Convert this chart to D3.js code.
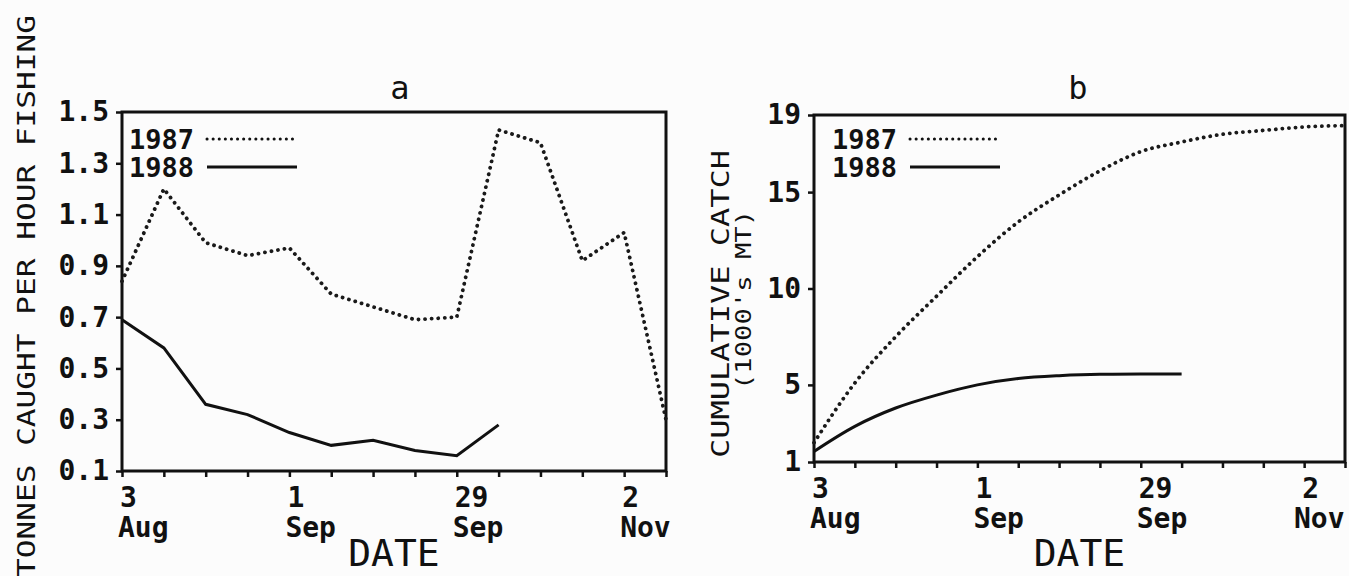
<!DOCTYPE html>
<html>
<head>
<meta charset="utf-8">
<script src="https://cdn.jsdelivr.net/npm/d3@7"></script>
<style>
  html, body { margin: 0; padding: 0; background: #fcfcfc; }
  svg { display: block; }
  text { font-family: "DejaVu Sans Mono", monospace; fill: #111; }
</style>
</head>
<body>
<div id="chart"></div>
<script>
// week index along the season (3 Aug .. 2 Nov)
const weekIndex = [0, 1, 2, 3, 4, 5, 6, 7, 8, 9, 10, 11, 12, 13];
const dateTicks = [0, 4, 8, 12];
const dateDay = ["3", "1", "29", "2"];
const dateMonth = ["Aug", "Sep", "Sep", "Nov"];

// panel a: tonnes per hour fishing
const cpue1987 = [0.84, 1.20, 0.99, 0.94, 0.97, 0.79, 0.74, 0.69, 0.70, 1.43, 1.38, 0.92, 1.03, 0.30];
const cpue1988 = [0.69, 0.58, 0.36, 0.32, 0.25, 0.20, 0.22, 0.18, 0.16, 0.28];
const cpueTicks = [0.1, 0.3, 0.5, 0.7, 0.9, 1.1, 1.3, 1.5];

// panel b: cumulative catch (1000's MT)
const cum1987 = [2.0, 5.1, 7.5, 9.6, 11.65, 13.45, 14.85, 16.1, 17.1, 17.6, 18.0, 18.2, 18.38, 18.45];
const cum1988 = [1.55, 2.85, 3.8, 4.47, 5.0, 5.33, 5.48, 5.55, 5.56, 5.56];
const cumTicks = [1, 5, 10, 15, 19];

const years = ["1987", "1988"];

const width = 1349;
const height = 576;

const svg = d3.select("#chart")
  .append("svg")
  .attr("width", width)
  .attr("height", height);

function drawPanel(opt) {
  const x = d3.scaleLinear().domain([0, 13]).range([opt.left, opt.right]);
  const y = d3.scaleLinear().domain(opt.yDomain).range([opt.bottom, opt.top]);

  const g = svg.append("g").attr("class", "panel");

  // frame
  g.append("rect")
    .attr("x", opt.left)
    .attr("y", opt.top)
    .attr("width", opt.right - opt.left)
    .attr("height", opt.bottom - opt.top)
    .attr("fill", "none")
    .attr("stroke", "#111")
    .attr("stroke-width", 3);

  // x axis, a tick every week
  const xAxis = g.append("g")
    .attr("transform", `translate(0,${opt.bottom})`)
    .call(d3.axisBottom(x).tickValues(weekIndex).tickSize(6).tickFormat(""));
  xAxis.select(".domain").remove();
  xAxis.selectAll("line").attr("stroke", "#111").attr("stroke-width", 2.5);

  const lab = g.selectAll(".xlab")
    .data(dateTicks)
    .enter()
    .append("text")
    .attr("class", "xlab")
    .attr("font-size", 28)
    .attr("font-weight", "bold")
    .attr("text-anchor", "start");
  lab.append("tspan")
    .attr("x", d => x(d) - 2)
    .attr("y", opt.bottom + 36)
    .text((d, i) => dateDay[i]);
  lab.append("tspan")
    .attr("x", d => Math.min(x(d) - 4, width - 55))
    .attr("y", opt.bottom + 66)
    .text((d, i) => dateMonth[i]);

  svg.append("text")
    .attr("x", (opt.left + opt.right) / 2)
    .attr("y", 566)
    .attr("text-anchor", "middle")
    .attr("font-size", 38)
    .text("DATE");

  // y axis
  const yAxis = g.append("g")
    .attr("transform", `translate(${opt.left},0)`)
    .call(d3.axisLeft(y).tickValues(opt.yTicks).tickSize(6).tickPadding(7).tickFormat(opt.fmt));
  yAxis.select(".domain").remove();
  yAxis.selectAll("line").attr("stroke", "#111").attr("stroke-width", 2.5);
  yAxis.selectAll("text")
    .attr("font-size", 28)
    .attr("font-weight", "bold")
    .attr("font-family", "DejaVu Sans Mono")
    .attr("fill", "#111");

  // panel letter
  svg.append("text")
    .attr("x", opt.titleX)
    .attr("y", 99)
    .attr("text-anchor", "middle")
    .attr("font-size", 32)
    .text(opt.letter);

  // series
  const line = d3.line()
    .x((d, i) => x(weekIndex[i]))
    .y(d => y(d))
    .curve(opt.curve);

  g.append("path")
    .datum(opt.s1987)
    .attr("d", line)
    .attr("fill", "none")
    .attr("stroke", "#1a1a1a")
    .attr("stroke-width", 3.8)
    .attr("stroke-linecap", "round")
    .attr("stroke-dasharray", "0.1,6.5");

  g.append("path")
    .datum(opt.s1988)
    .attr("d", line)
    .attr("fill", "none")
    .attr("stroke", "#111")
    .attr("stroke-width", 3);

  // legend
  const leg = g.selectAll(".leg")
    .data(years)
    .enter()
    .append("g")
    .attr("class", "leg")
    .attr("transform", (d, i) => `translate(${opt.legX},${149 + i * 28})`);
  leg.append("text")
    .attr("font-size", 27)
    .attr("font-weight", "bold")
    .text(d => d);
  leg.append("line")
    .attr("x1", 78)
    .attr("x2", 168)
    .attr("y1", -10)
    .attr("y2", -10)
    .attr("stroke", "#111")
    .attr("stroke-width", (d, i) => i === 0 ? 3 : 2.8)
    .attr("stroke-linecap", (d, i) => i === 0 ? "round" : "butt")
    .attr("stroke-dasharray", (d, i) => i === 0 ? "0.1,6" : null);
}

drawPanel({
  left: 122, right: 666, top: 112, bottom: 471,
  yDomain: [0.1, 1.5], yTicks: cpueTicks, fmt: d3.format(".1f"),
  s1987: cpue1987, s1988: cpue1988,
  curve: d3.curveLinear, letter: "a", titleX: 400, legX: 129
});

drawPanel({
  left: 814, right: 1345, top: 115, bottom: 462,
  yDomain: [1, 19], yTicks: cumTicks, fmt: d3.format("d"),
  s1987: cum1987, s1988: cum1988,
  curve: d3.curveMonotoneX, letter: "b", titleX: 1078, legX: 832
});

// y axis titles
svg.append("text")
  .attr("transform", "translate(35,296) rotate(-90)")
  .attr("text-anchor", "middle")
  .attr("font-size", 25)
  .attr("textLength", 562)
  .attr("lengthAdjust", "spacingAndGlyphs")
  .text("TONNES CAUGHT PER HOUR FISHING");

svg.append("text")
  .attr("transform", "translate(729,304) rotate(-90)")
  .attr("text-anchor", "middle")
  .attr("font-size", 24)
  .attr("textLength", 308)
  .attr("lengthAdjust", "spacingAndGlyphs")
  .text("CUMULATIVE CATCH");

svg.append("text")
  .attr("transform", "translate(751,300) rotate(-90)")
  .attr("text-anchor", "middle")
  .attr("font-size", 21)
  .attr("textLength", 180)
  .attr("lengthAdjust", "spacingAndGlyphs")
  .text("(1000's MT)");
</script>
</body>
</html>
